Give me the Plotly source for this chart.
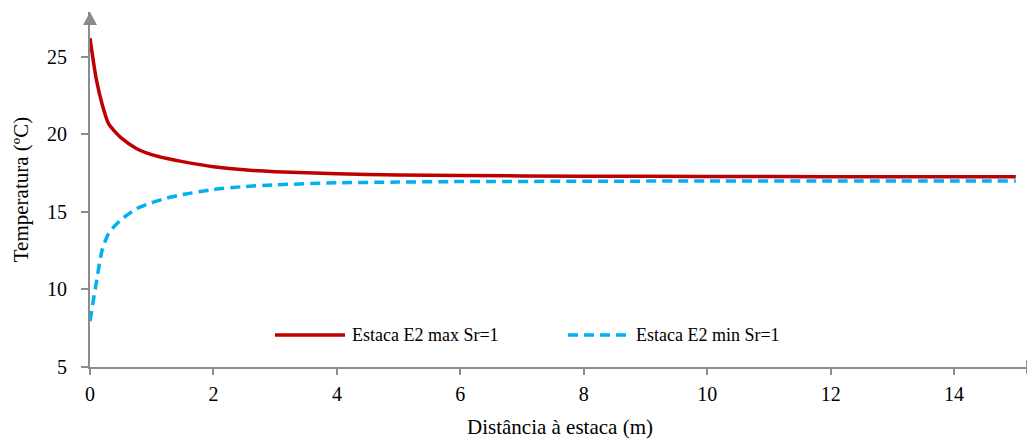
import plotly.graph_objects as go

# Distance from pile (m)
distance = [0, 0.1, 0.2, 0.3, 0.4, 0.5, 0.75, 1.0, 1.25, 1.5, 2.0, 2.5, 3.0, 4.0, 5.0, 6.0, 8.0, 10.0, 12.0, 15.0]
# Temperature (ºC)
temp_max = [26.2, 23.6, 21.9, 20.7, 20.2, 19.8, 19.1, 18.7, 18.45, 18.25, 17.92, 17.72, 17.6, 17.46, 17.39, 17.35, 17.31, 17.29, 17.28, 17.27]
temp_min = [7.96, 10.4, 12.6, 13.6, 14.1, 14.5, 15.2, 15.6, 15.9, 16.12, 16.45, 16.64, 16.75, 16.88, 16.93, 16.96, 16.98, 17.0, 17.0, 17.0]

series_names = ["Estaca E2 max Sr=1", "Estaca E2 min Sr=1"]
x_ticks = [0, 2, 4, 6, 8, 10, 12, 14]
y_ticks = [5, 10, 15, 20, 25]

RED = "#C00000"
BLUE = "#00B0F0"
GREY = "#8C8C8C"
FONT = "Liberation Serif"

fig = go.Figure()
fig.add_trace(go.Scatter(x=distance, y=temp_max, mode="lines", name=series_names[0],
                         line=dict(color=RED, width=3.5, shape="spline", smoothing=0.6),
                         showlegend=False))
fig.add_trace(go.Scatter(x=distance, y=temp_min, mode="lines", name=series_names[1],
                         line=dict(color=BLUE, width=3.5, dash="10px,6px", shape="spline", smoothing=0.6),
                         showlegend=False))

xr = [0, 15.23]
yr = [5, 27.9]

# page body has an 8px default margin, so the figure is sized/offset to compensate
fig.update_layout(
    width=1027, height=432,
    margin=dict(l=82, r=5, t=4, b=73),
    paper_bgcolor="white", plot_bgcolor="white",
    font=dict(family=FONT, size=20, color="black"),
    xaxis=dict(range=xr, tickvals=x_ticks, showgrid=False, zeroline=False, automargin=False,
               showline=True, linecolor=GREY, linewidth=2,
               ticks="outside", ticklen=6, tickwidth=2, tickcolor=GREY,
               tickfont=dict(family=FONT, size=20), ticklabelstandoff=2,
               title=dict(text="Distância à estaca (m)", standoff=15,
                          font=dict(family=FONT, size=21))),
    yaxis=dict(range=yr, tickvals=y_ticks, showgrid=False, zeroline=False, automargin=False,
               showline=True, linecolor=GREY, linewidth=2,
               ticks="outside", ticklen=7, tickwidth=2, tickcolor=GREY,
               tickfont=dict(family=FONT, size=20), ticklabelstandoff=10,
               title=dict(text="Temperatura (ºC)", standoff=13,
                          font=dict(family=FONT, size=21))),
    xaxis2=dict(range=xr, tickvals=x_ticks, overlaying="x", anchor="y", side="bottom",
                showgrid=False, zeroline=False, showline=False, showticklabels=False, automargin=False,
                ticks="inside", ticklen=6, tickwidth=2, tickcolor=GREY),
    yaxis2=dict(range=yr, tickvals=y_ticks, overlaying="y", anchor="x", side="left",
                showgrid=False, zeroline=False, showline=False, showticklabels=False, automargin=False,
                ticks="inside", ticklen=5, tickwidth=2, tickcolor=GREY),
)

# axis arrowheads (decoration)
fig.add_shape(type="path", xref="paper", yref="paper", xsizemode="pixel", ysizemode="pixel",
              xanchor=0, yanchor=1, path="M -7 -13 L 7 -13 L 0 0 Z",
              fillcolor=GREY, line=dict(width=0))
fig.add_shape(type="path", xref="paper", yref="paper", xsizemode="pixel", ysizemode="pixel",
              xanchor=1, yanchor=0, path="M -4 7 L -4 -7 L 9 0 Z",
              fillcolor=GREY, line=dict(width=0))

# custom legend
leg_y = 0.09
fig.add_shape(type="line", xref="paper", yref="paper", x0=0.1968, x1=0.2713, y0=leg_y, y1=leg_y,
              line=dict(color=RED, width=3.5))
fig.add_shape(type="line", xref="paper", yref="paper", x0=0.5085, x1=0.5723, y0=leg_y, y1=leg_y,
              line=dict(color=BLUE, width=3.5, dash="10px,6px"))
fig.add_annotation(xref="paper", yref="paper", x=0.2766, y=leg_y, text=series_names[0],
                   showarrow=False, xanchor="left", yanchor="middle",
                   font=dict(family=FONT, size=18, color="black"))
fig.add_annotation(xref="paper", yref="paper", x=0.5787, y=leg_y, text=series_names[1],
                   showarrow=False, xanchor="left", yanchor="middle",
                   font=dict(family=FONT, size=18, color="black"))

fig.write_html("out.html")
